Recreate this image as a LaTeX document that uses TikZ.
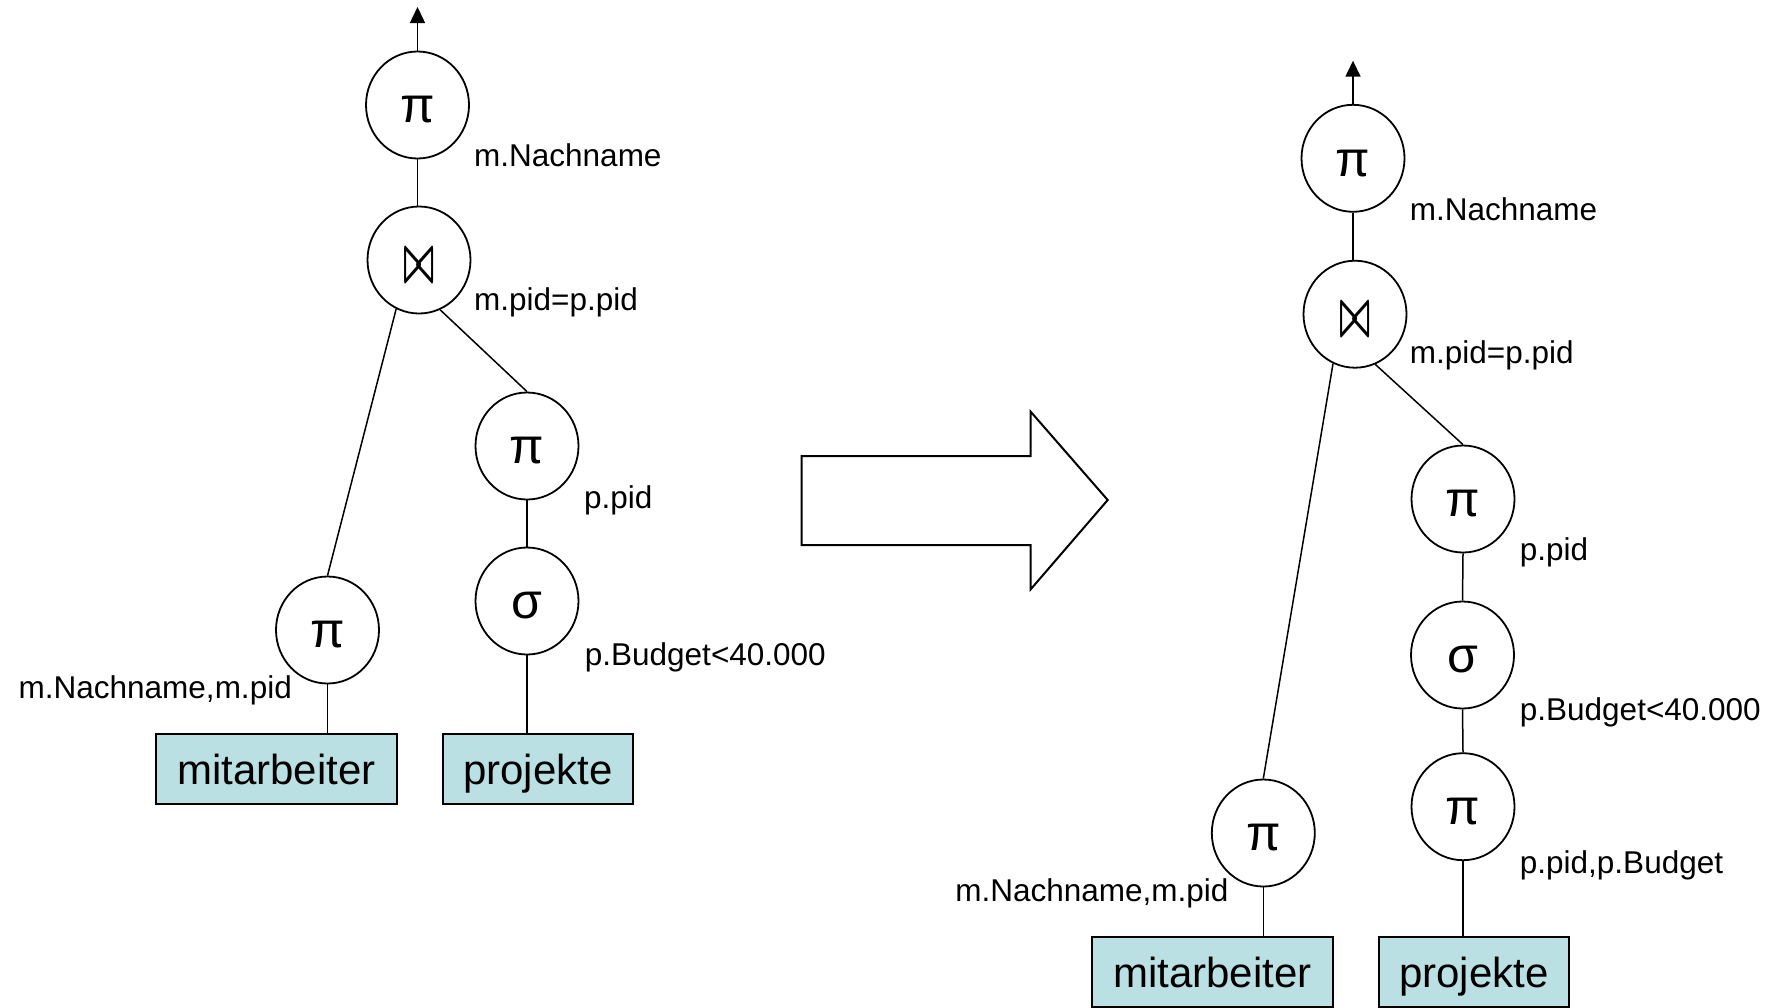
\documentclass[tikz,border=0pt]{standalone}
\usepackage{fontspec}
\usepackage{graphicx}
\setmainfont{Liberation Sans}
\usetikzlibrary{shapes.geometric, arrows.meta}
\definecolor{relfill}{RGB}{187,224,228}
% lower a glyph inside its circle while keeping its reported size
\newcommand{\glyphdown}[2]{\raisebox{-#1}[\height][\depth]{#2}}
% natural-join symbol, outlined, sized to the operator circles
\newcommand{\joinsym}{\resizebox{32pt}{31pt}{\boldmath$\bowtie$}}

\begin{document}
\begin{tikzpicture}[x=1pt, y=-1pt,
  op/.style={draw, ellipse, line width=1.8pt, minimum width=103pt,
    minimum height=107pt, inner sep=0pt, font=\fontsize{50}{60}\selectfont},
  rel/.style={draw, line width=1.8pt, fill=relfill, inner sep=0pt,
    text height=30pt, text depth=0pt, minimum height=70.3pt,
    font=\fontsize{42}{50}\selectfont},
  relwide/.style={rel, minimum width=241pt},
  relnarrow/.style={rel, minimum width=190pt},
  lbl/.style={inner sep=0pt, font=\fontsize{31.5}{38}\selectfont},
  edge/.style={line width=1.5pt},
  outarrow/.style={line width=1.5pt, -{Triangle[length=16pt, width=15pt]}}]
\useasboundingbox (0,0) rectangle (1776,1007);

% ---------- original plan ----------
\node[op] (A1) at (417.5,105) {\glyphdown{5pt}{π}};
\node[op] (J1) at (419,260)   {\glyphdown{5.5pt}{\joinsym}};
\node[op] (P1) at (527,446)   {\glyphdown{5pt}{π}};
\node[op] (S1) at (527,601)   {\glyphdown{5pt}{σ}};
\node[op] (Q1) at (327.5,630) {\glyphdown{5pt}{π}};
\node[relwide]   (M1) at (276.4,769) {mitarbeiter};
\node[relnarrow] (R1) at (538,769)   {projekte};

\coordinate (T1) at (417.5,7);
\draw[outarrow] (A1.north) -- (T1);
\draw[edge] (A1.south) -- (A1.south |- J1.north);
\draw[edge] (J1.245) -- (Q1.north);
\draw[edge] (J1.293) -- (P1.north);
\draw[edge] (P1.south) -- (S1.north);
\draw[edge] (Q1.south) -- (Q1.south |- M1.north);
\draw[edge] (S1.south) -- (S1.south |- R1.north);

\node[lbl, anchor=base west] (lA1) at (474,166.7) {m.Nachname};
\node[lbl, anchor=base west] (lJ1) at (474,310)   {m.pid=p.pid};
\node[lbl, anchor=base west] (lP1) at (584,508.3) {p.pid};
\node[lbl, anchor=base west] (lS1) at (584.7,665) {p.Budget<40.000};
\node[lbl, anchor=base east] (lQ1) at (292,698.3) {m.Nachname,m.pid};

% ---------- transformation arrow ----------
\draw[line width=2pt, line join=miter]
  (801.7,456) -- (1030.7,456) -- (1030.7,411.7) -- (1107.7,500)
  -- (1030.7,589.3) -- (1030.7,545) -- (801.7,545) -- cycle;

% ---------- optimised plan ----------
\node[op] (A2) at (1353,158.3)   {\glyphdown{5pt}{π}};
\node[op] (J2) at (1355,314.2)   {\glyphdown{5.5pt}{\joinsym}};
\node[op] (P2) at (1463,499)     {\glyphdown{5pt}{π}};
\node[op] (S2) at (1462.5,655)   {\glyphdown{5pt}{σ}};
\node[op] (P4) at (1463,806.7)   {\glyphdown{5pt}{π}};
\node[op] (Q2) at (1263.3,833)   {\glyphdown{5pt}{π}};
\node[relwide]   (M2) at (1212.3,972) {mitarbeiter};
\node[relnarrow] (R2) at (1473.8,972) {projekte};

\coordinate (T2) at (1353,60.7);
\draw[outarrow] (A2.north) -- (T2);
\draw[edge] (A2.south) -- (A2.south |- J2.north);
\draw[edge] (J2.246) -- (Q2.north);
\draw[edge] (J2.292) -- (P2.north);
\draw[edge] (P2.south) -- (S2.north);
\draw[edge] (S2.south) -- (P4.north);
\draw[edge] (P4.south) -- (P4.south |- R2.north);
\draw[edge] (Q2.south) -- (Q2.south |- M2.north);

\node[lbl, anchor=base west] (lA2) at (1409.7,220)   {m.Nachname};
\node[lbl, anchor=base west] (lJ2) at (1409.7,363.3) {m.pid=p.pid};
\node[lbl, anchor=base west] (lP2) at (1519.7,560)   {p.pid};
\node[lbl, anchor=base west] (lS2) at (1519.7,720)   {p.Budget<40.000};
\node[lbl, anchor=base west] (lP4) at (1519.7,873.3) {p.pid,p.Budget};
\node[lbl, anchor=base east] (lQ2) at (1228.7,901)   {m.Nachname,m.pid};
\end{tikzpicture}
\end{document}
